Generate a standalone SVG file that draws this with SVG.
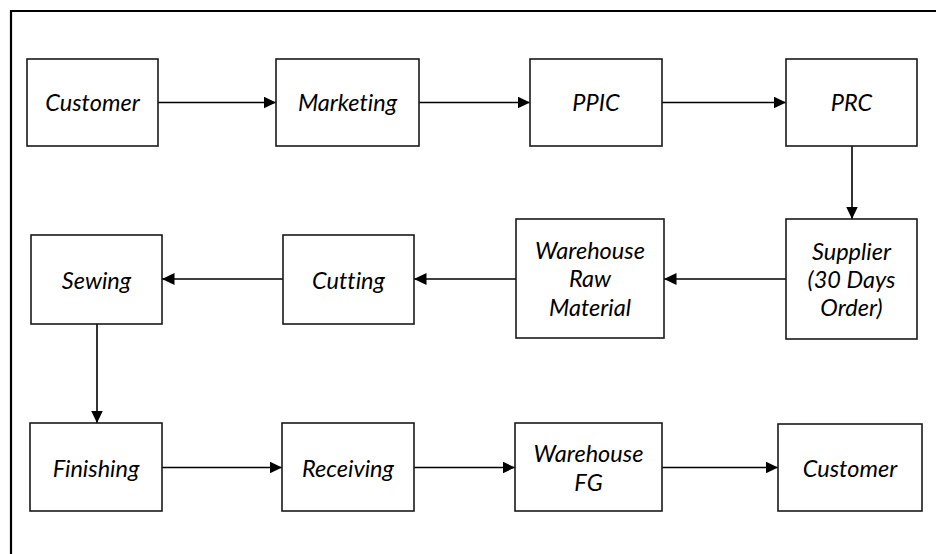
<svg xmlns="http://www.w3.org/2000/svg" width="936" height="554" viewBox="0 0 936 554">
  <style>
    .box { fill: #ffffff; stroke: #1a1a1a; stroke-width: 1.6; }
    .lbl { font-family: Lato, "Open Sans", "Liberation Sans", sans-serif; font-style: italic; font-size: 23.5px; font-variant-ligatures: none; fill: #000000; text-anchor: middle; }
    .edge { stroke: #000000; stroke-width: 1.6; fill: none; marker-end: url(#arrow); }
    .frame { stroke: #000000; stroke-width: 2.2; fill: none; }
  </style>
  <defs>
    <marker id="arrow" markerUnits="userSpaceOnUse" markerWidth="13" markerHeight="12" refX="12.5" refY="6" orient="auto">
      <path d="M0,0 L12.5,6 L0,12 Z" fill="#000000"/>
    </marker>
  </defs>
  <rect width="936" height="554" fill="#ffffff"/>

  <!-- outer frame: top and left edges -->
  <path class="frame" d="M11,554 L11,11 L936,11"/>

  <!-- connectors -->
  <g id="connectors">
    <line class="edge" x1="158" y1="102.5" x2="276" y2="102.5"/>
    <line class="edge" x1="419" y1="102.5" x2="530" y2="102.5"/>
    <line class="edge" x1="662" y1="102.5" x2="786" y2="102.5"/>
    <line class="edge" x1="852" y1="146" x2="852" y2="219"/>
    <line class="edge" x1="786" y1="279" x2="664" y2="279"/>
    <line class="edge" x1="516" y1="279" x2="414" y2="279"/>
    <line class="edge" x1="283" y1="279" x2="162" y2="279"/>
    <line class="edge" x1="97" y1="324" x2="97" y2="423"/>
    <line class="edge" x1="162" y1="467.5" x2="282" y2="467.5"/>
    <line class="edge" x1="414" y1="467.5" x2="515" y2="467.5"/>
    <line class="edge" x1="662" y1="467.5" x2="778" y2="467.5"/>
  </g>

  <!-- row 1 -->
  <g id="customer-in">
    <rect class="box" x="27" y="59" width="131" height="87"/>
    <text class="lbl" x="92.5" y="110.5">Customer</text>
  </g>
  <g id="marketing">
    <rect class="box" x="276" y="59" width="143" height="87"/>
    <text class="lbl" x="347.5" y="110.5">Marketing</text>
  </g>
  <g id="ppic">
    <rect class="box" x="530" y="59" width="132" height="87"/>
    <text class="lbl" x="596" y="110.5">PPIC</text>
  </g>
  <g id="prc">
    <rect class="box" x="786" y="59" width="131" height="87"/>
    <text class="lbl" x="851.5" y="110.5">PRC</text>
  </g>

  <!-- row 2 -->
  <g id="supplier">
    <rect class="box" x="786" y="219" width="131" height="120"/>
    <text class="lbl" x="851.5" y="259.5">Supplier</text>
    <text class="lbl" x="851.5" y="287.5">(30 Days</text>
    <text class="lbl" x="851.5" y="315.5">Order)</text>
  </g>
  <g id="warehouse-raw">
    <rect class="box" x="516" y="219" width="148" height="119"/>
    <text class="lbl" x="590" y="259">Warehouse</text>
    <text class="lbl" x="590" y="287">Raw</text>
    <text class="lbl" x="590" y="315.5">Material</text>
  </g>
  <g id="cutting">
    <rect class="box" x="283" y="235" width="131" height="89"/>
    <text class="lbl" x="348.5" y="288.5">Cutting</text>
  </g>
  <g id="sewing">
    <rect class="box" x="31" y="235" width="131" height="89"/>
    <text class="lbl" x="96.5" y="288.5">Sewing</text>
  </g>

  <!-- row 3 -->
  <g id="finishing">
    <rect class="box" x="30" y="423" width="132" height="88"/>
    <text class="lbl" x="96" y="477">Finishing</text>
  </g>
  <g id="receiving">
    <rect class="box" x="282" y="423" width="132" height="88"/>
    <text class="lbl" x="348" y="477">Receiving</text>
  </g>
  <g id="warehouse-fg">
    <rect class="box" x="515" y="423" width="147" height="88"/>
    <text class="lbl" x="588.5" y="462">Warehouse</text>
    <text class="lbl" x="588.5" y="490.5">FG</text>
  </g>
  <g id="customer-out">
    <rect class="box" x="778" y="424" width="144" height="87"/>
    <text class="lbl" x="850" y="477">Customer</text>
  </g>
</svg>
